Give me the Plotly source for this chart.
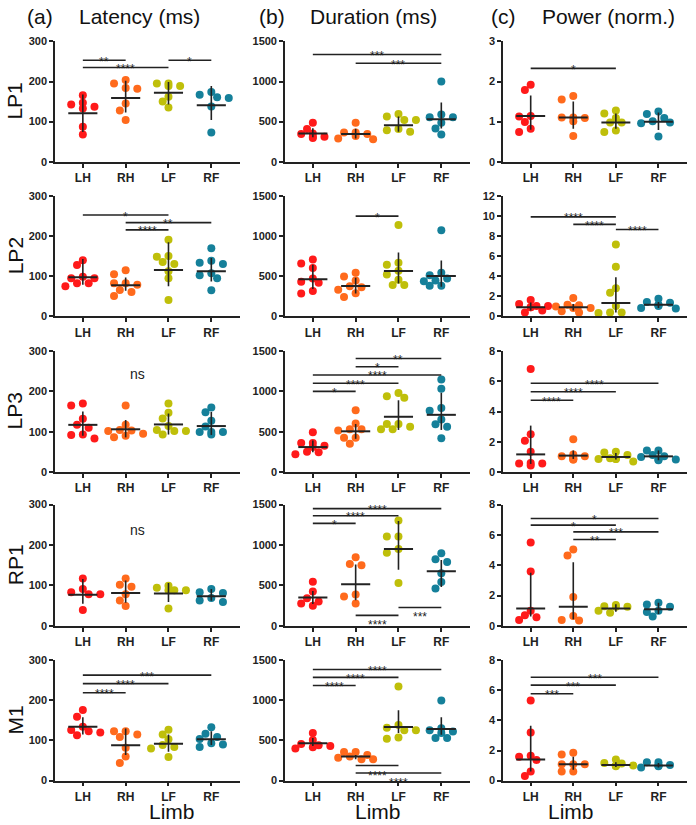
import numpy as np
import plotly.graph_objects as go
from plotly.subplots import make_subplots

limbs = ["LH", "RH", "LF", "RF"]
limb_colors = ["#ff1a1a", "#ff6a1c", "#bfbf0a", "#15809a"]
row_names = ["LP1", "LP2", "LP3", "RP1", "M1"]
col_letters = ["(a)", "(b)", "(c)"]
col_titles = ["Latency (ms)", "Duration (ms)", "Power (norm.)"]

# points per limb; bars = (median, low, high); sig = (from, to, y, label)
lat_lp1 = [[137, 166, 143, 147, 133, 87, 68], [204, 195, 184, 182, 145, 128, 104],
           [195, 189, 189, 195, 162, 150, 135], [167, 174, 161, 159, 138, 73]]
lat_lp1_bar = [(121, 74, 168), (159, 123, 202), (172, 143, 199), (141, 104, 189)]
lat_lp1_sig = [(0, 1, 253, "**"), (0, 2, 235, "****"), (2, 3, 253, "*")]

lat_lp2 = [[140, 128, 95, 95, 99, 75, 83, 83], [105, 115, 83, 83, 79, 66, 51, 61],
           [191, 151, 149, 136, 131, 113, 95, 41], [170, 139, 134, 131, 108, 103, 95, 65]]
lat_lp2_bar = [(98, 79, 143), (78, 64, 97), (116, 75, 185), (113, 87, 146)]
lat_lp2_sig = [(0, 2, 253, "*"), (1, 3, 234, "**"), (1, 2, 216, "****")]

lat_lp3 = [[170, 165, 132, 117, 110, 93, 92, 83], [165, 117, 104, 102, 103, 95, 90, 86],
           [170, 147, 133, 114, 104, 102, 102, 93], [160, 148, 127, 113, 93, 99, 99, 99]]
lat_lp3_bar = [(117, 90, 150), (106, 86, 129), (118, 93, 145), (114, 92, 149)]
lat_lp3_sig = []

lat_rp1 = [[83, 117, 91, 78, 78, 39], [117, 102, 97, 78, 63, 49],
           [94, 88, 88, 88, 99, 43], [83, 91, 81, 59, 69, 63]]
lat_rp1_bar = [(77, 55, 116), (81, 57, 112), (80, 59, 106), (73, 62, 91)]
lat_rp1_sig = []

lat_m1 = [[176, 159, 134, 126, 123, 120, 113], [123, 123, 115, 109, 82, 60, 44],
          [127, 115, 103, 89, 84, 80, 59], [133, 117, 109, 104, 93, 90, 84]]
lat_m1_bar = [(134, 115, 158), (88, 64, 130), (92, 72, 115), (103, 89, 123)]
lat_m1_sig = [(0, 1, 219, "****"), (0, 2, 242, "****"), (0, 3, 263, "***")]

dur_lp1 = [[486, 409, 353, 312, 312, 345, 296], [486, 365, 365, 345, 320, 290, 280],
           [596, 564, 519, 519, 409, 393, 373], [1001, 588, 555, 555, 486, 413, 340]]
dur_lp1_bar = [(353, 304, 418), (345, 288, 410), (454, 373, 564), (531, 413, 738)]
dur_lp1_sig = [(0, 3, 1338, "***"), (1, 3, 1228, "***")]

dur_lp2 = [[709, 660, 603, 432, 473, 420, 318, 285], [546, 497, 448, 375, 363, 334, 289, 241],
           [1141, 669, 644, 571, 522, 457, 391, 391], [1076, 546, 514, 473, 448, 440, 383, 383]]
dur_lp2_bar = [(465, 342, 644), (379, 285, 481), (567, 412, 799), (505, 371, 697)]
dur_lp2_sig = [(1, 2, 1251, "*")]

dur_lp3 = [[493, 310, 359, 326, 359, 220, 245, 253], [766, 603, 530, 530, 514, 424, 424, 351],
           [938, 978, 921, 595, 595, 562, 530, 530], [1146, 1031, 758, 795, 652, 591, 562, 420]]
dur_lp3_bar = [(310, 245, 391), (505, 412, 595), (685, 522, 889), (709, 522, 982)]
dur_lp3_sig = [(1, 3, 1406, "**"), (1, 2, 1304, "*"), (0, 3, 1202, "****"),
               (0, 2, 1100, "****"), (0, 1, 999, "*")]

dur_rp1 = [[546, 424, 249, 302, 342, 277], [848, 766, 750, 387, 363, 277],
           [1305, 1105, 1105, 950, 905, 530], [897, 824, 791, 652, 542, 461]]
dur_rp1_bar = [(351, 269, 432), (514, 318, 758), (950, 693, 1296), (677, 481, 815)]
dur_rp1_sig = [(0, 3, 1451, "****"), (0, 2, 1362, "****"), (0, 1, 1268, "*"),
               (1, 2, 130, "****"), (2, 3, 228, "***")]

dur_m1 = [[595, 505, 457, 440, 432, 416, 400], [355, 355, 318, 300, 285, 265, 265],
          [1174, 693, 660, 628, 628, 538, 522], [999, 652, 628, 611, 595, 530, 530]]
dur_m1_bar = [(465, 432, 530), (300, 265, 318), (669, 595, 876), (644, 571, 791)]
dur_m1_sig = [(0, 3, 1386, "****"), (0, 2, 1288, "****"), (0, 1, 1186, "****"),
              (1, 2, 188, "****"), (1, 3, 94, "****")]

pow_lp1 = [[1.79, 1.92, 1.14, 1.13, 0.99, 0.74, 0.82], [1.64, 1.55, 1.10, 1.09, 1.10, 1.01, 0.64],
           [1.28, 1.09, 1.20, 0.98, 0.98, 0.74, 0.78], [1.09, 1.25, 1.19, 0.96, 0.98, 1.01, 0.63]]
pow_lp1_bar = [(1.14, 0.80, 1.65), (1.10, 0.82, 1.50), (0.98, 0.82, 1.20), (1.00, 0.79, 1.23)]
pow_lp1_sig = [(0, 2, 2.33, "*")]

pow_lp2 = [[1.63, 1.24, 1.04, 0.91, 0.91, 1.04, 0.59, 0.39], [1.83, 1.17, 1.11, 1.0, 0.85, 0.85, 0.52, 0.39],
           [7.17, 4.96, 2.80, 2.35, 1.04, 0.33, 0.39, 0.39], [1.76, 1.43, 1.37, 1.17, 1.11, 1.04, 0.85, 0.78]]
pow_lp2_bar = [(0.91, 0.59, 1.40), (0.91, 0.59, 1.24), (1.34, 0.39, 3.9), (1.17, 0.85, 1.43)]
pow_lp2_sig = [(0, 2, 9.94, "****"), (1, 2, 9.19, "****"), (2, 3, 8.67, "****")]

pow_lp3 = [[6.80, 2.50, 2.07, 1.35, 0.61, 0.57, 0.57, 0.43], [2.17, 1.17, 1.04, 1.04, 1.0, 0.91, 0.83, 0.83],
           [1.35, 1.30, 1.13, 0.91, 0.87, 0.87, 0.87, 0.70], [1.43, 1.43, 1.13, 1.04, 1.0, 0.83, 0.83, 0.78]]
pow_lp3_bar = [(1.17, 0.54, 3.07), (1.09, 0.87, 1.43), (1.0, 0.83, 1.26), (1.04, 0.78, 1.43)]
pow_lp3_sig = [(0, 3, 5.87, "****"), (0, 2, 5.30, "****"), (0, 1, 4.74, "****")]

pow_rp1 = [[5.50, 3.59, 1.0, 0.70, 0.39, 0.57], [5.04, 4.65, 1.91, 0.65, 0.35, 0.39],
           [1.26, 1.30, 1.37, 1.26, 0.87, 1.0], [1.41, 1.52, 1.26, 0.61, 1.0, 0.91]]
pow_rp1_bar = [(1.15, 0.61, 3.5), (1.26, 0.43, 4.2), (1.15, 0.93, 1.43), (1.09, 0.78, 1.52)]
pow_rp1_sig = [(0, 3, 7.09, "*"), (0, 2, 6.65, "*"), (1, 3, 6.20, "***"), (1, 2, 5.70, "**")]

pow_m1 = [[5.33, 3.20, 1.65, 1.59, 1.37, 0.30, 0.61], [1.85, 1.74, 1.09, 1.09, 1.09, 0.61, 0.61],
          [1.41, 1.17, 1.13, 1.0, 1.0, 1.0, 0.96], [1.22, 1.22, 1.04, 1.0, 1.0, 0.96, 0.87]]
pow_m1_bar = [(1.41, 0.61, 3.65), (1.09, 0.72, 1.59), (1.04, 0.91, 1.22), (1.0, 0.87, 1.17)]
pow_m1_sig = [(0, 3, 6.87, "***"), (0, 2, 6.35, "***"), (0, 1, 5.78, "***")]

ns_labels = {(2, 0): 243, (3, 0): 238}

panels = [
    [(lat_lp1, lat_lp1_bar, lat_lp1_sig), (dur_lp1, dur_lp1_bar, dur_lp1_sig), (pow_lp1, pow_lp1_bar, pow_lp1_sig)],
    [(lat_lp2, lat_lp2_bar, lat_lp2_sig), (dur_lp2, dur_lp2_bar, dur_lp2_sig), (pow_lp2, pow_lp2_bar, pow_lp2_sig)],
    [(lat_lp3, lat_lp3_bar, lat_lp3_sig), (dur_lp3, dur_lp3_bar, dur_lp3_sig), (pow_lp3, pow_lp3_bar, pow_lp3_sig)],
    [(lat_rp1, lat_rp1_bar, lat_rp1_sig), (dur_rp1, dur_rp1_bar, dur_rp1_sig), (pow_rp1, pow_rp1_bar, pow_rp1_sig)],
    [(lat_m1, lat_m1_bar, lat_m1_sig), (dur_m1, dur_m1_bar, dur_m1_sig), (pow_m1, pow_m1_bar, pow_m1_sig)],
]
y_max = [[300, 1500, 3], [300, 1500, 12], [300, 1500, 8], [300, 1500, 8], [300, 1500, 8]]
y_tick = [[100, 500, 1], [100, 500, 2], [100, 500, 2], [100, 500, 2], [100, 500, 2]]

W, H = 696, 825
col_px = [(55, 240), (285, 470), (503, 687)]
row_px = [(36, 158), (193, 315), (350, 473), (506, 629), (664, 786)]
x_range = [-0.65, 3.67]
FONT = "Arial, Liberation Sans, sans-serif"


def swarm(vals, ymax, h_px=122.0, unit_px=42.7, dot=7.2, step=5.8, cap=0.45):
    # GraphPad-like scatter: spread points sideways when they would overlap
    y = np.asarray(vals, dtype=float) / ymax * h_px
    order = np.argsort(-y, kind="stable")
    placed = []
    off = np.zeros(len(y))
    kmax = int(cap * unit_px / step)
    for i in order:
        hit = 0.0
        for k in range(kmax + 1):
            found = False
            for c in ([0] if k == 0 else [-k, k]):
                x = c * step
                if all((x - px) ** 2 + (y[i] - py) ** 2 >= dot ** 2 for px, py in placed):
                    hit, found = x, True
                    break
            if found:
                break
        off[i] = hit / unit_px
        placed.append((hit, y[i]))
    return off


fig = make_subplots(rows=5, cols=3)

for r in range(5):
    for c in range(3):
        pts, bars, sig = panels[r][c]
        ymax = y_max[r][c]
        for g in range(4):
            offs = swarm(pts[g], ymax)
            fig.add_trace(go.Scatter(
                x=g + offs, y=pts[g], mode="markers",
                marker=dict(size=8, color=limb_colors[g]),
                showlegend=False, hoverinfo="y"), row=r + 1, col=c + 1)
        # median + range lines
        hx, hy, vx, vy = [], [], [], []
        for g, (med, lo, hi) in enumerate(bars):
            hx += [g - 0.34, g + 0.34, None]
            hy += [med, med, None]
            vx += [g, g, None]
            vy += [lo, hi, None]
        fig.add_trace(go.Scatter(x=vx, y=vy, mode="lines", line=dict(color="#222", width=1.6),
                                 showlegend=False, hoverinfo="skip"), row=r + 1, col=c + 1)
        fig.add_trace(go.Scatter(x=hx, y=hy, mode="lines", line=dict(color="#222", width=2),
                                 showlegend=False, hoverinfo="skip"), row=r + 1, col=c + 1)
        # significance bars
        sx, sy = [], []
        for a, b, yv, lab in sig:
            sx += [a, b, None]
            sy += [yv, yv, None]
            below = yv < 0.2 * ymax
            fig.add_annotation(x=(a + b) / 2, y=yv, text=lab, showarrow=False,
                               yanchor="top" if below else "middle",
                               yshift=-1 if below else -1.5,
                               font=dict(family=FONT, size=12, color="#222"),
                               row=r + 1, col=c + 1)
        if sx:
            fig.add_trace(go.Scatter(x=sx, y=sy, mode="lines", line=dict(color="#222", width=1.6),
                                     showlegend=False, hoverinfo="skip"), row=r + 1, col=c + 1)
        if (r, c) in ns_labels:
            fig.add_annotation(x=1.28, y=ns_labels[(r, c)], text="ns", showarrow=False,
                               font=dict(family=FONT, size=14, color="#222"),
                               row=r + 1, col=c + 1)

        fig.update_xaxes(
            domain=[col_px[c][0] / W, col_px[c][1] / W], range=x_range,
            tickmode="array", tickvals=[0, 1, 2, 3], ticktext=limbs,
            showline=True, linecolor="#222", linewidth=1.6, ticks="outside",
            ticklen=4, tickwidth=1.6, tickcolor="#222", showgrid=False, zeroline=False,
            tickfont=dict(family=FONT, size=12, color="#222", weight="bold"),
            row=r + 1, col=c + 1)
        fig.update_yaxes(
            domain=[1 - row_px[r][1] / H, 1 - row_px[r][0] / H], range=[0, ymax],
            dtick=y_tick[r][c], tick0=0,
            showline=True, linecolor="#222", linewidth=1.6, ticks="outside",
            ticklen=4, tickwidth=1.6, tickcolor="#222", showgrid=False, zeroline=False,
            tickfont=dict(family=FONT, size=11, color="#222", weight="bold"),
            row=r + 1, col=c + 1)

# column headings
letter_x = [25, 257, 489]
title_x = [77, 308, 540]
for c in range(3):
    fig.add_annotation(x=letter_x[c] / W, y=1 - 11 / H, xref="paper", yref="paper",
                       text=col_letters[c], showarrow=False, xanchor="left", yanchor="middle",
                       font=dict(family=FONT, size=21, color="#111"))
    fig.add_annotation(x=title_x[c] / W, y=1 - 11 / H, xref="paper", yref="paper",
                       text=col_titles[c], showarrow=False, xanchor="left", yanchor="middle",
                       font=dict(family=FONT, size=21, color="#111"))
    fig.add_annotation(x=(col_px[c][0] + col_px[c][1]) / 2 / W, y=0, yshift=-5,
                       xref="paper", yref="paper", text="Limb", showarrow=False,
                       yanchor="bottom", borderpad=0, font=dict(family=FONT, size=21, color="#111"))

# row labels
for r in range(5):
    fig.add_annotation(x=15 / W, y=1 - (row_px[r][0] + row_px[r][1]) / 2 / H,
                       xref="paper", yref="paper", text=row_names[r], showarrow=False,
                       textangle=-90, xanchor="center", yanchor="middle",
                       font=dict(family=FONT, size=21, color="#111"))

fig.update_layout(
    width=W, height=H, margin=dict(l=0, r=0, t=0, b=0),
    plot_bgcolor="white", paper_bgcolor="white",
)

fig.write_html("out.html", config={"displayModeBar": False},
               post_script="document.body.style.margin='0';")
